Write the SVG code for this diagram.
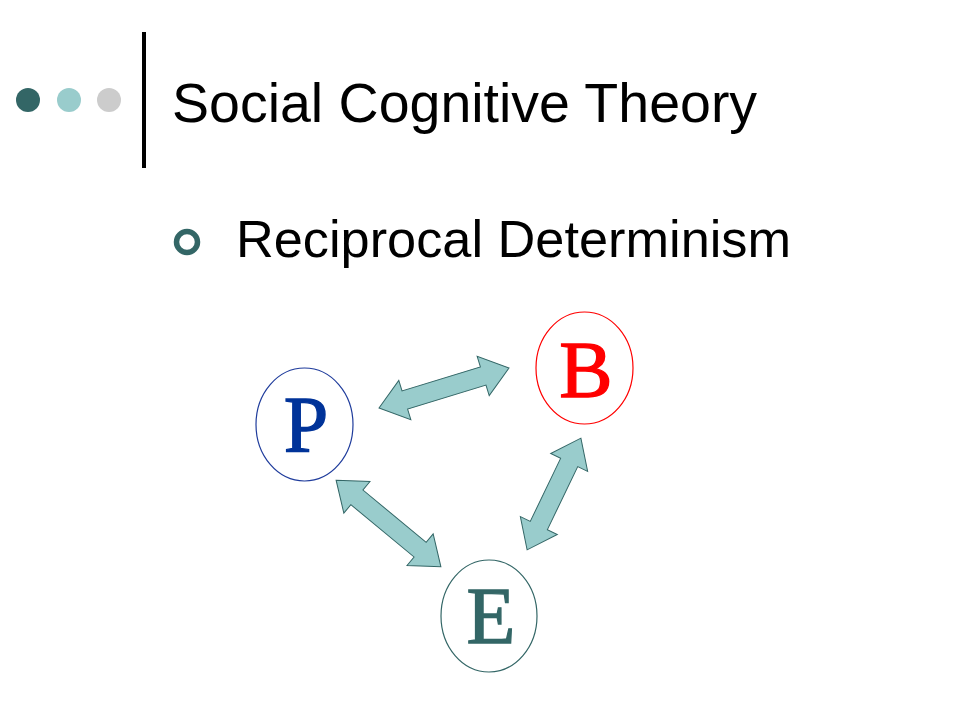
<svg xmlns="http://www.w3.org/2000/svg" width="960" height="720" viewBox="0 0 960 720">
<style>
.title{font-family:"Liberation Sans",Arial,sans-serif;font-size:55.5px;fill:#000}
.sub{font-family:"Liberation Sans",Arial,sans-serif;font-size:52.3px;fill:#000}
.node{fill:#fff;stroke-width:1.2}
.letter{font-family:"Liberation Serif","Times New Roman",serif;font-size:80px;text-anchor:middle;stroke-width:1.3}
.arrow{fill:#99cccc;stroke:#336666;stroke-width:1}
</style>
<defs>
<path id="dbl136" d="M-68,0 L-41,-20.5 L-41,-9.5 L41,-9.5 L41,-20.5 L68,0 L41,20.5 L41,9.5 L-41,9.5 L-41,20.5 Z"/>
<path id="dbl124" d="M-62,0 L-35,-20.5 L-35,-9.5 L35,-9.5 L35,-20.5 L62,0 L35,20.5 L35,9.5 L-35,9.5 L-35,20.5 Z"/>
</defs>
<rect width="960" height="720" fill="#fff"/>
<g id="header">
<circle cx="28" cy="100" r="12" fill="#336666"/>
<circle cx="69" cy="100" r="12" fill="#99cccc"/>
<circle cx="109" cy="100" r="12" fill="#cccccc"/>
<line x1="144" y1="32" x2="144" y2="168" stroke="#000" stroke-width="4"/>
<text class="title" x="172" y="122">Social Cognitive Theory</text>
</g>
<g id="bullet">
<circle cx="187" cy="242" r="10.5" fill="none" stroke="#336666" stroke-width="5.5"/>
<text class="sub" x="236" y="257">Reciprocal Determinism</text>
</g>
<g id="connectors">
<use href="#dbl136" class="arrow" transform="translate(444,388) rotate(-17.1)"/>
<use href="#dbl136" class="arrow" transform="translate(388.5,523.5) rotate(39.6)"/>
<use href="#dbl124" class="arrow" transform="translate(554,494) rotate(115.7)"/>
</g>
<g id="node-P">
<ellipse class="node" cx="304.5" cy="424.5" rx="48.5" ry="56.5" stroke="#1f3c9c"/>
<text class="letter" x="306" y="452" fill="#003399" stroke="#003399">P</text>
</g>
<g id="node-B">
<ellipse class="node" cx="584.5" cy="368" rx="48.5" ry="56" stroke="#ff0000"/>
<text class="letter" x="586" y="397" fill="#ff0000" stroke="#ff0000">B</text>
</g>
<g id="node-E">
<ellipse class="node" cx="489" cy="616" rx="48" ry="56" stroke="#336666"/>
<text class="letter" x="491" y="643" fill="#336666" stroke="#336666">E</text>
</g>
</svg>
